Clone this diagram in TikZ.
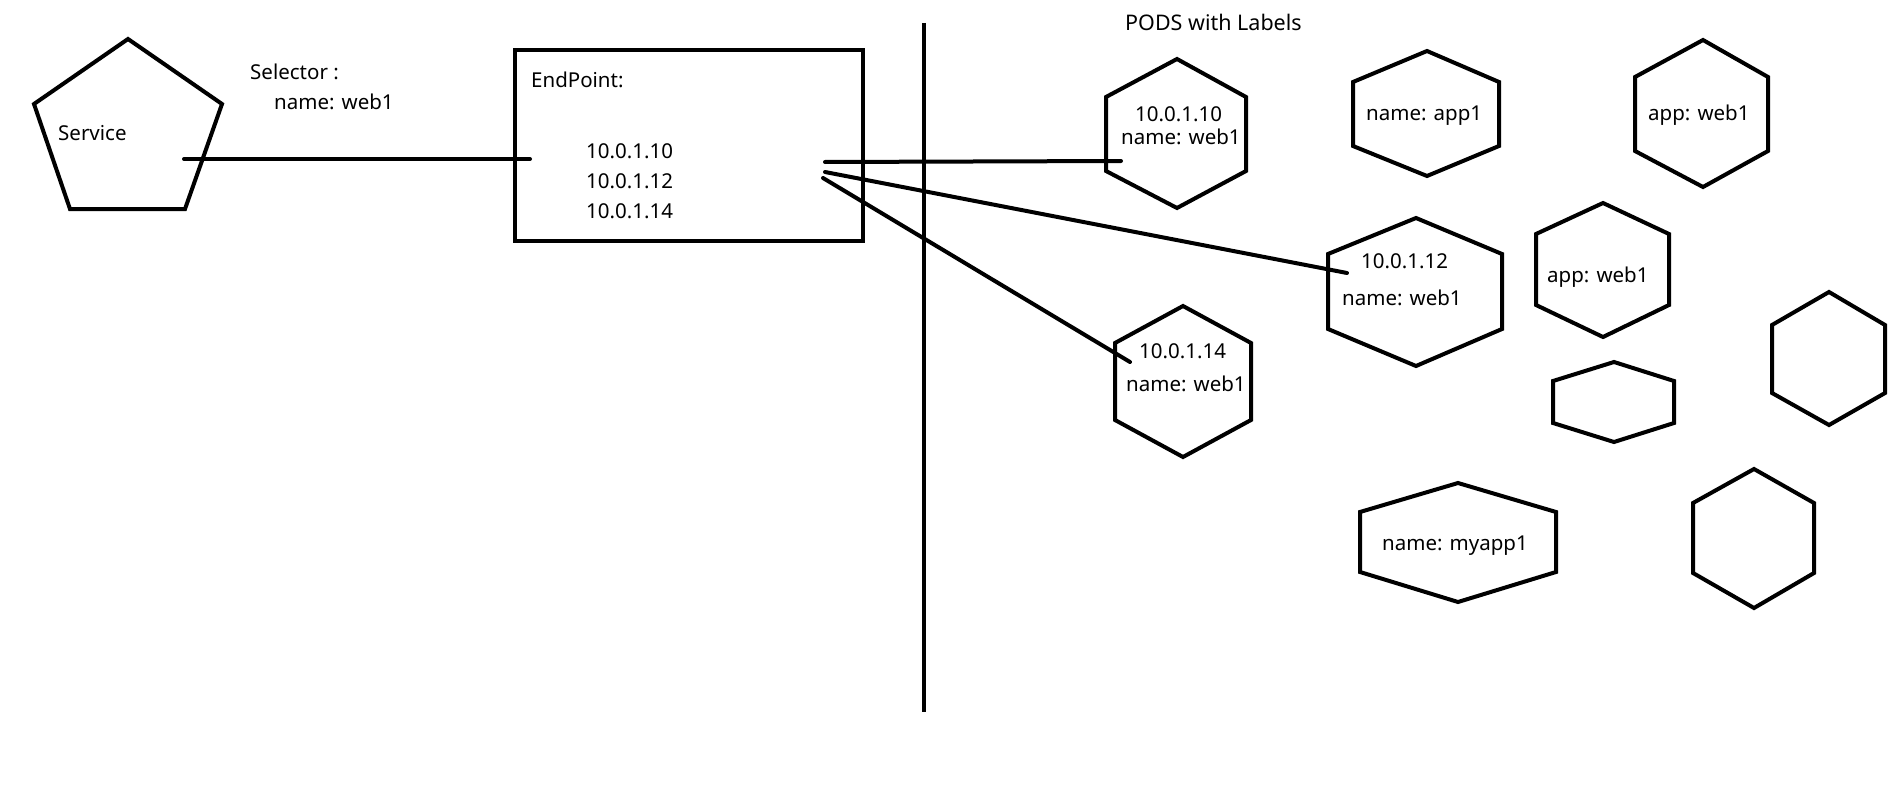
\documentclass[tikz,border=0pt]{standalone}
\usepackage{fontspec}
\setmainfont{Noto Sans}
\begin{document}
\begin{tikzpicture}[x=1pt,y=-1pt,
  shp/.style={draw=black,line width=4pt,line join=miter},
  conn/.style={draw=black,line width=4pt,line cap=round},
  lbl/.style={anchor=base west,inner sep=0pt,font=\fontsize{20.5}{24}\selectfont}]
\useasboundingbox[fill=white] (0,0) rectangle (1892,797);
% service pentagon
\draw[shp] (128,39) -- (222,104) -- (185,209) -- (70,209) -- (34,104) -- cycle;
\node[lbl] (svc) at (58,141) {Service};
\node[lbl] (sel) at (250,80) {Selector :};
\node[lbl] (seln) at (274,110) {name: web1};
% endpoint box
\node[draw=black,line width=4pt,minimum width=348pt,minimum height=191pt,inner sep=0pt] (ep) at (689,145.5) {};
\node[lbl] (eplbl) at (531,88) {EndPoint:};
\node[lbl] (ip1) at (586,158) {10.0.1.10};
\node[lbl] (ip2) at (586,188) {10.0.1.12};
\node[lbl] (ip3) at (586,218) {10.0.1.14};
% divider
\coordinate (vtop) at (924,23);
\coordinate (vbot) at (924,712);
\draw[conn,line cap=butt] (vtop) -- (vbot);
\node[lbl,font=\fontsize{21.5}{24}\selectfont] (pods) at (1125,31) {PODS with Labels};
% pods
\draw[shp] (1177,59) -- (1246,97) -- (1246,171) -- (1177,208) -- (1106,171) -- (1106,97) -- cycle;
\node[lbl] (h1a) at (1135,122) {10.0.1.10};
\node[lbl] (h1b) at (1121,144) {name: web1};
\draw[shp] (1427,51) -- (1499,82) -- (1499,146) -- (1427,176) -- (1353,146) -- (1353,82) -- cycle;
\node[lbl] (h2) at (1366,121) {name: app1};
\draw[shp] (1703,40) -- (1768,77) -- (1768,151) -- (1703,187) -- (1635,151) -- (1635,77) -- cycle;
\node[lbl] (h3) at (1648,121) {app: web1};
\draw[shp] (1416,218) -- (1502,254) -- (1502,329) -- (1416,366) -- (1328,329) -- (1328,254) -- cycle;
\node[lbl] (h4a) at (1361,268) {10.0.1.12};
\node[lbl] (h4b) at (1342,305) {name: web1};
\draw[shp] (1603,203) -- (1669,234) -- (1669,305) -- (1603,337) -- (1536,305) -- (1536,234) -- cycle;
\node[lbl] (h5) at (1547,282) {app: web1};
\draw[shp] (1183,306) -- (1251,343) -- (1251,420) -- (1183,457) -- (1115,420) -- (1115,343) -- cycle;
\node[lbl] (h6a) at (1139,358) {10.0.1.14};
\node[lbl] (h6b) at (1126,391) {name: web1};
\draw[shp] (1614,362) -- (1674,381) -- (1674,423) -- (1614,442) -- (1553,423) -- (1553,381) -- cycle;
\draw[shp] (1829,292) -- (1885,325) -- (1885,393) -- (1829,425) -- (1772,393) -- (1772,325) -- cycle;
\draw[shp] (1458,483) -- (1556,512) -- (1556,572) -- (1458,602) -- (1360,572) -- (1360,512) -- cycle;
\node[lbl] (h7) at (1382,550) {name: myapp1};
\draw[shp] (1754,469) -- (1814,503) -- (1814,573) -- (1754,608) -- (1693,573) -- (1693,503) -- cycle;
% connectors
\coordinate (s0) at (184,159);
\coordinate (s1) at (530,159);
\coordinate (e1) at (825,162);
\coordinate (e2) at (825,172);
\coordinate (e3) at (823,178);
\coordinate (p1) at (1121,161);
\coordinate (p2) at (1347,273);
\coordinate (p3) at (1130,362);
\draw[conn] (s0) -- (s1);
\draw[conn] (e1) -- (p1);
\draw[conn] (e2) -- (p2);
\draw[conn] (e3) -- (p3);
\end{tikzpicture}
\end{document}
